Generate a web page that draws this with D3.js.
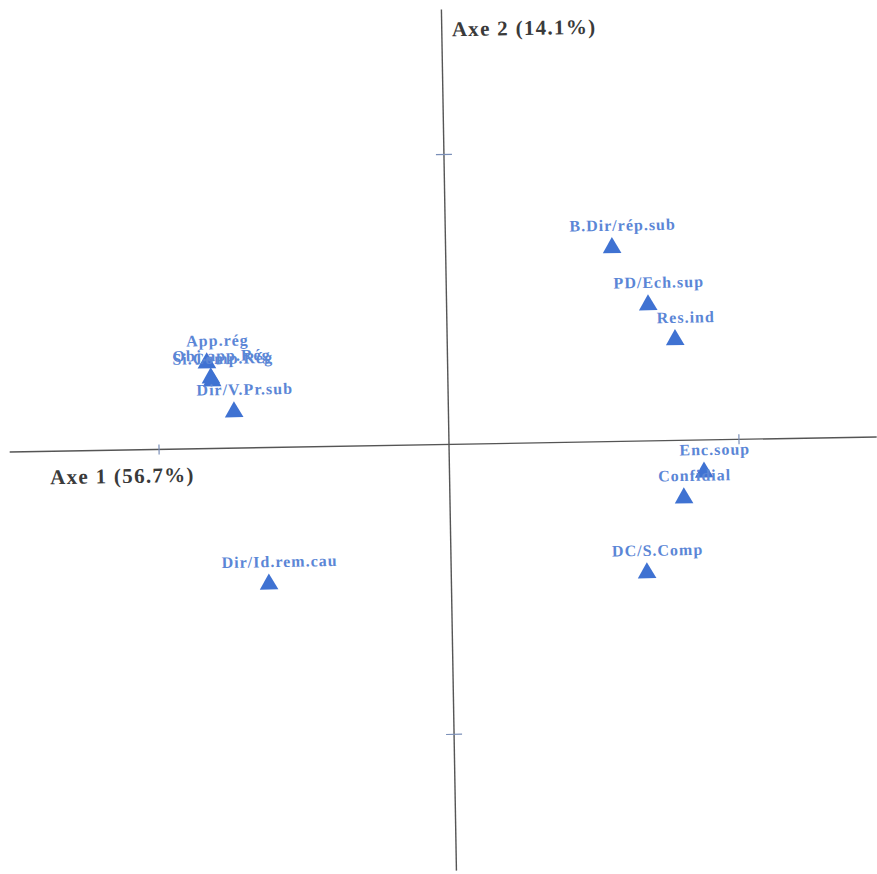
<!DOCTYPE html>
<html>
<head>
<meta charset="utf-8">
<script src="https://cdn.jsdelivr.net/npm/d3@7"></script>
<style>
  html, body { margin: 0; padding: 0; background: #ffffff; }
  svg { display: block; }
</style>
</head>
<body>
<div id="chart"></div>
<script>
// Factor map of categories on the first two axes
const labels = ["App.rég", "Obj.app.Rég", "Si.Comp.Rég", "Dir/V.Pr.sub", "Dir/Id.rem.cau",
                "B.Dir/rép.sub", "PD/Ech.sup", "Res.ind", "Enc.soup", "Confidial", "DC/S.Comp"];
const axis1 = [-0.830, -0.817, -0.813, -0.739, -0.629, 0.574, 0.695, 0.786, 0.878, 0.807, 0.675];
const axis2 = [0.295, 0.243, 0.233, 0.125, -0.471, 0.668, 0.469, 0.347, -0.111, -0.199, -0.455];
const tickValues = [-1, 1];
const axisTitles = ["Axe 1 (56.7%)", "Axe 2 (14.1%)"];

const width = 877, height = 874;
const origin = [449, 444.4];
const unit = 290;

const x = d3.scaleLinear().domain([-1.515, 1.475]).range([-1.515 * unit, 1.475 * unit]);
const y = d3.scaleLinear().domain([-1.47, 1.5]).range([1.47 * unit, -1.5 * unit]);

const svg = d3.select("#chart").append("svg")
  .attr("width", width).attr("height", height);

const g = svg.append("g")
  .attr("transform", `translate(${origin[0]},${origin[1]}) rotate(-1)`);

const axisColor = "#555555";
const markColor = "#3f72d2";
const serif = "'Liberation Serif', 'DejaVu Serif', serif";

// axis lines
g.append("line")
  .attr("x1", x(x.domain()[0])).attr("x2", x(x.domain()[1]))
  .attr("y1", y(0)).attr("y2", y(0))
  .attr("stroke", axisColor).attr("stroke-width", 1.4);
g.append("line")
  .attr("x1", x(0)).attr("x2", x(0))
  .attr("y1", y(y.domain()[0])).attr("y2", y(y.domain()[1]))
  .attr("stroke", axisColor).attr("stroke-width", 1.4);

// tick marks
g.selectAll(".tx").data(tickValues).join("line")
  .attr("x1", d => x(d)).attr("x2", d => x(d))
  .attr("y1", y(0) - 5).attr("y2", y(0) + 5)
  .attr("stroke", "#7a8fb8").attr("stroke-width", 1.2);
g.selectAll(".ty").data(tickValues).join("line")
  .attr("x1", x(0) - 8).attr("x2", x(0) + 8)
  .attr("y1", d => y(d)).attr("y2", d => y(d))
  .attr("stroke", "#7a8fb8").attr("stroke-width", 1.2);

// axis titles
g.append("text")
  .attr("x", x(x.domain()[0]) + 40).attr("y", y(0) + 33)
  .attr("font-family", serif)
  .attr("font-weight", "bold").attr("font-size", 21)
  .attr("letter-spacing", 1.3)
  .attr("fill", "#3a3a3a")
  .text(axisTitles[0]);
g.append("text")
  .attr("x", x(0) + 10).attr("y", y(y.domain()[1]) + 27)
  .attr("font-family", serif)
  .attr("font-weight", "bold").attr("font-size", 21)
  .attr("letter-spacing", 1.3)
  .attr("fill", "#3a3a3a")
  .text(axisTitles[1]);

const pts = labels.map((l, i) => ({label: l, a: axis1[i], b: axis2[i]}));

// triangle markers
const tri = d3.symbol().type(d3.symbolTriangle).size(150);
g.selectAll(".pt").data(pts).join("path")
  .attr("transform", d => `translate(${x(d.a)},${y(d.b)})`)
  .attr("d", tri)
  .attr("fill", markColor);

// point labels
g.selectAll(".lb").data(pts).join("text")
  .attr("x", d => x(d.a) + 11).attr("y", d => y(d.b) - 17)
  .attr("text-anchor", "middle")
  .attr("font-family", serif)
  .attr("font-weight", "bold").attr("font-size", 16)
  .attr("letter-spacing", 1)
  .attr("fill", "#5b86d6")
  .text(d => d.label);
</script>
</body>
</html>
